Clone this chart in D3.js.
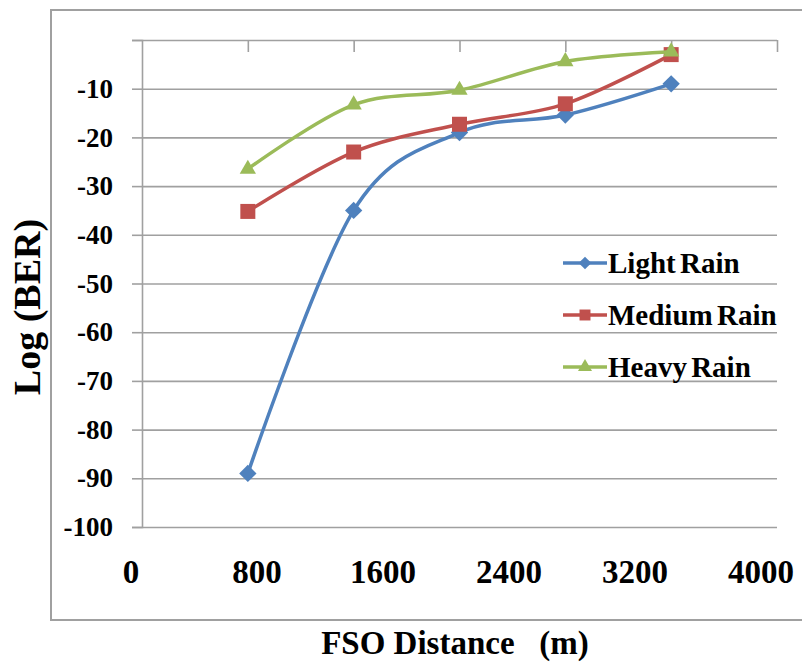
<!DOCTYPE html>
<html>
<head>
<meta charset="utf-8">
<script src="https://cdn.jsdelivr.net/npm/d3@7"></script>
<style>
  body { margin: 0; background: #fff; }
  svg { display: block; }
  svg text { font-family: "Liberation Serif", "Tinos", "Times New Roman", "DejaVu Serif", serif !important; font-weight: bold; fill: #000; }
</style>
</head>
<body>
<svg id="chart" width="802" height="664"></svg>
<script>
// category slots on the horizontal axis (Excel style, points sit on slots 1..5)
var slots = [0, 1, 2, 3, 4, 5, 6];
var pointSlot = [1, 2, 3, 4, 5];
var xLabels = [0, 800, 1600, 2400, 3200, 4000];
var yTicks = [-100, -90, -80, -70, -60, -50, -40, -30, -20, -10];

var lightRain = [-89, -35, -19, -15.4, -9];
var mediumRain = [-35.2, -23, -17.3, -13.1, -3];
var heavyRain = [-26.5, -13.3, -10.3, -4.4, -2.4];

var seriesNames = ["Light Rain", "Medium Rain", "Heavy Rain"];
var seriesColors = ["#4F81BD", "#C0504D", "#9BBB59"];

var svg = d3.select("svg#chart");

var plot = { left: 142, right: 777, top: 40, bottom: 527 };

var xScale = d3.scaleLinear().domain([0, 6]).range([plot.left, plot.right]);
var yScale = d3.scaleLinear().domain([-100, 0]).range([plot.bottom, plot.top]);
// label row under the plot is spaced on its own
var labelScale = d3.scaleLinear().domain([0, 4000]).range([131, 761]);

var gridColor = "#a0a0a0";

// outer chart frame
svg.append("rect")
    .attr("x", 51)
    .attr("y", 10)
    .attr("width", 800)
    .attr("height", 610)
    .attr("fill", "none")
    .attr("stroke", gridColor)
    .attr("stroke-width", 2);

// horizontal gridlines + y axis
var yAxis = d3.axisLeft(yScale)
    .tickValues(yTicks.concat([0]))
    .tickSize(10)
    .tickPadding(19)
    .tickFormat(function(d) { return d === 0 ? "" : d; });

var grid = d3.axisLeft(yScale)
    .tickValues(yTicks.concat([0]))
    .tickSize(-(plot.right - plot.left))
    .tickFormat("");

svg.append("g")
    .attr("transform", "translate(" + plot.left + ",0)")
    .call(grid)
    .call(function(g) {
        g.select(".domain").remove();
        g.selectAll("line").attr("stroke", gridColor).attr("stroke-width", 1.6);
    });

var yGroup = svg.append("g")
    .attr("transform", "translate(" + plot.left + ",0)")
    .call(yAxis)
    .attr("font-family", null);
yGroup.select(".domain").attr("stroke", gridColor).attr("stroke-width", 1.6);
yGroup.selectAll("line").attr("stroke", gridColor).attr("stroke-width", 1.6);
yGroup.selectAll("text")
    .style("font-size", "27px")
    .attr("fill", "#000");

// category axis sits at the top (value 0) with tick marks pointing down
var xAxis = d3.axisBottom(xScale)
    .tickValues(slots.slice(1))
    .tickSize(12)
    .tickSizeOuter(0)
    .tickFormat("");

var xGroup = svg.append("g")
    .attr("transform", "translate(0," + yScale(0) + ")")
    .call(xAxis);
xGroup.select(".domain").remove();
xGroup.selectAll("line").attr("stroke", gridColor).attr("stroke-width", 1.6);

// label row
svg.append("g").selectAll("text")
    .data(xLabels)
    .join("text")
    .attr("x", function(d) { return labelScale(d); })
    .attr("y", 583)
    .attr("text-anchor", "middle")
    .style("font-size", "33px")
    .text(function(d) { return d; });

// series
var allSeries = [lightRain, mediumRain, heavyRain];
var symbols = [d3.symbolSquare, d3.symbolSquare, d3.symbolTriangle];
var symbolSizes = [150, 225, 115];
var symbolRotate = [45, 0, 0];
var legendSizes = [80, 120, 85];

var lineFunction = d3.line()
    .x(function(d, i) { return xScale(pointSlot[i]); })
    .y(function(d) { return yScale(d); })
    .curve(d3.curveCatmullRom.alpha(0));

allSeries.forEach(function(values, s) {
    var g = svg.append("g").attr("class", "series");
    g.append("path")
        .attr("d", lineFunction(values))
        .attr("fill", "none")
        .attr("stroke", seriesColors[s])
        .attr("stroke-width", 3.5);

    g.selectAll("path.marker")
        .data(values)
        .join("path")
        .attr("class", "marker")
        .attr("d", d3.symbol().type(symbols[s]).size(symbolSizes[s]))
        .attr("transform", function(d, i) {
            return "translate(" + xScale(pointSlot[i]) + "," + yScale(d) + ") rotate(" + symbolRotate[s] + ")";
        })
        .attr("fill", seriesColors[s]);
});

// legend
var legend = svg.append("g").attr("transform", "translate(563,263)");
seriesNames.forEach(function(name, s) {
    var row = legend.append("g").attr("transform", "translate(0," + (s * 52) + ")");
    row.append("line")
        .attr("x1", 0).attr("x2", 44)
        .attr("y1", 0).attr("y2", 0)
        .attr("stroke", seriesColors[s])
        .attr("stroke-width", 3.5);
    row.append("path")
        .attr("d", d3.symbol().type(symbols[s]).size(legendSizes[s]))
        .attr("transform", "translate(22,0) rotate(" + symbolRotate[s] + ")")
        .attr("fill", seriesColors[s]);
    row.append("text")
        .attr("x", 45)
        .attr("y", 10)
        .style("font-size", "29px")
        .style("word-spacing", "-3px")
        .text(name);
});

// axis titles
svg.append("text")
    .attr("transform", "translate(40,307) rotate(-90)")
    .attr("text-anchor", "middle")
    .style("font-size", "38px")
    .text("Log (BER)");

svg.append("text")
    .attr("x", 455)
    .attr("y", 654)
    .attr("text-anchor", "middle")
    .style("white-space", "pre")
    .style("font-size", "33px")
    .text("FSO Distance   (m)");
</script>
</body>
</html>
